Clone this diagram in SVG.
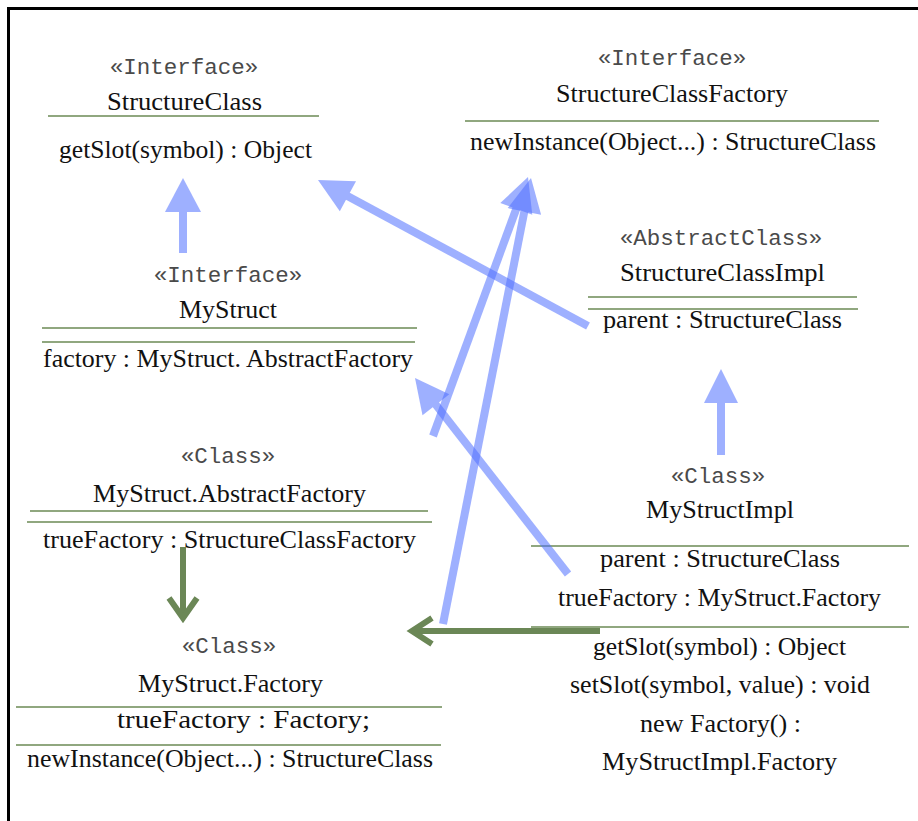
<svg xmlns="http://www.w3.org/2000/svg" width="918" height="821" viewBox="0 0 918 821">
<style>
.st{font-family:"Liberation Mono","Courier New",monospace;font-size:22.5px;fill:#4a4a4a;text-anchor:middle}
.tx{font-family:"Liberation Serif","Times New Roman",serif;font-size:25.5px;fill:#111;text-anchor:middle}
.sep{stroke:#6b8a55;stroke-width:1.5}
.blue{opacity:0.55}
.blue line{stroke:#5070ff;stroke-width:8}
.blue polygon{fill:#5070ff}
.green{stroke:#6b8756;stroke-width:6;fill:none}
</style>
<rect width="918" height="821" fill="#fff"/>
<path d="M8.5 821 V8.5 H918" fill="none" stroke="#000" stroke-width="3"/>

<g id="StructureClass">
<text class="st" x="184" y="74">«Interface»</text>
<text class="tx" x="184.5" y="110" textLength="155" lengthAdjust="spacingAndGlyphs">StructureClass</text>
<line class="sep" x1="48" y1="116" x2="319" y2="116"/>
<text class="tx" x="185.5" y="158" textLength="253" lengthAdjust="spacingAndGlyphs">getSlot(symbol) : Object</text>
</g>

<g id="StructureClassFactory">
<text class="st" x="672" y="65">«Interface»</text>
<text class="tx" x="672" y="102" textLength="232" lengthAdjust="spacingAndGlyphs">StructureClassFactory</text>
<line class="sep" x1="465" y1="121" x2="879" y2="121"/>
<text class="tx" x="673" y="150" textLength="406" lengthAdjust="spacingAndGlyphs">newInstance(Object...) : StructureClass</text>
</g>

<g id="MyStruct">
<text class="st" x="228" y="282">«Interface»</text>
<text class="tx" x="228" y="318" textLength="98" lengthAdjust="spacingAndGlyphs">MyStruct</text>
<line class="sep" x1="42" y1="328" x2="417" y2="328"/>
<line class="sep" x1="42" y1="342" x2="415" y2="342"/>
<text class="tx" x="228" y="367" textLength="370" lengthAdjust="spacingAndGlyphs">factory : MyStruct. AbstractFactory</text>
</g>

<g id="StructureClassImpl">
<text class="st" x="721" y="245">«AbstractClass»</text>
<text class="tx" x="722.5" y="281" textLength="205" lengthAdjust="spacingAndGlyphs">StructureClassImpl</text>
<line class="sep" x1="588" y1="297" x2="857" y2="297"/>
<line class="sep" x1="588" y1="309" x2="858" y2="309"/>
<text class="tx" x="722.5" y="328" textLength="239" lengthAdjust="spacingAndGlyphs">parent : StructureClass</text>
</g>

<g id="MyStruct.AbstractFactory">
<text class="st" x="228" y="463">«Class»</text>
<text class="tx" x="229.5" y="502" textLength="273" lengthAdjust="spacingAndGlyphs">MyStruct.AbstractFactory</text>
<line class="sep" x1="30" y1="511" x2="428" y2="511"/>
<line class="sep" x1="27" y1="522" x2="432" y2="522"/>
<text class="tx" x="229.5" y="548" textLength="373" lengthAdjust="spacingAndGlyphs">trueFactory : StructureClassFactory</text>
</g>

<g id="MyStructImpl">
<text class="st" x="718" y="483">«Class»</text>
<text class="tx" x="720" y="518" textLength="148" lengthAdjust="spacingAndGlyphs">MyStructImpl</text>
<line class="sep" x1="531" y1="546" x2="909" y2="546"/>
<text class="tx" x="720" y="567" textLength="240" lengthAdjust="spacingAndGlyphs">parent : StructureClass</text>
<text class="tx" x="719.5" y="606" textLength="323" lengthAdjust="spacingAndGlyphs">trueFactory : MyStruct.Factory</text>
<line class="sep" x1="531" y1="627" x2="909" y2="627"/>
<text class="tx" x="719.5" y="655" textLength="253" lengthAdjust="spacingAndGlyphs">getSlot(symbol) : Object</text>
<text class="tx" x="720" y="693" textLength="300" lengthAdjust="spacingAndGlyphs">setSlot(symbol, value) : void</text>
<text class="tx" x="720.5" y="732" textLength="161" lengthAdjust="spacingAndGlyphs">new Factory() :</text>
<text class="tx" x="719.5" y="770" textLength="235" lengthAdjust="spacingAndGlyphs">MyStructImpl.Factory</text>
</g>

<g id="MyStruct.Factory">
<text class="st" x="229" y="653">«Class»</text>
<text class="tx" x="230.5" y="692" textLength="185" lengthAdjust="spacingAndGlyphs">MyStruct.Factory</text>
<line class="sep" x1="16" y1="707" x2="442" y2="707"/>
<text class="tx" x="243.5" y="728" textLength="253" lengthAdjust="spacingAndGlyphs">trueFactory : Factory;</text>
<line class="sep" x1="16" y1="745" x2="441" y2="745"/>
<text class="tx" x="230" y="767" textLength="406" lengthAdjust="spacingAndGlyphs">newInstance(Object...) : StructureClass</text>
</g>

<g id="connectors">
<g class="blue"><line x1="183" y1="253" x2="183" y2="205"/><polygon points="183,178 201,212 165,212"/></g>
<g class="blue"><line x1="588" y1="326" x2="339.1" y2="191.4"/><polygon points="318,180 356,181.2 339.8,211.2"/></g>
<g class="blue"><line x1="721" y1="455" x2="721" y2="395"/><polygon points="721,369 738,403 704,403"/></g>
<g class="blue"><line x1="433" y1="436" x2="519.7" y2="199.5"/><polygon points="528,177 532.3,214.8 500.3,203"/></g>
<g class="blue"><line x1="443" y1="624" x2="526.3" y2="201.6"/><polygon points="531,178 541.1,214.7 507.7,208.1"/></g>
<g class="blue"><line x1="568" y1="574" x2="429.7" y2="396.9"/><polygon points="415,378 449.3,394.3 422.5,415.3"/></g>
<line class="green" x1="183" y1="547" x2="183" y2="617"/>
<polyline class="green" points="169,598 183,618 197,598"/>
<line class="green" x1="600" y1="631" x2="413" y2="631"/>
<polyline class="green" points="432,618 412,631 432,644"/>
</g>
</svg>
